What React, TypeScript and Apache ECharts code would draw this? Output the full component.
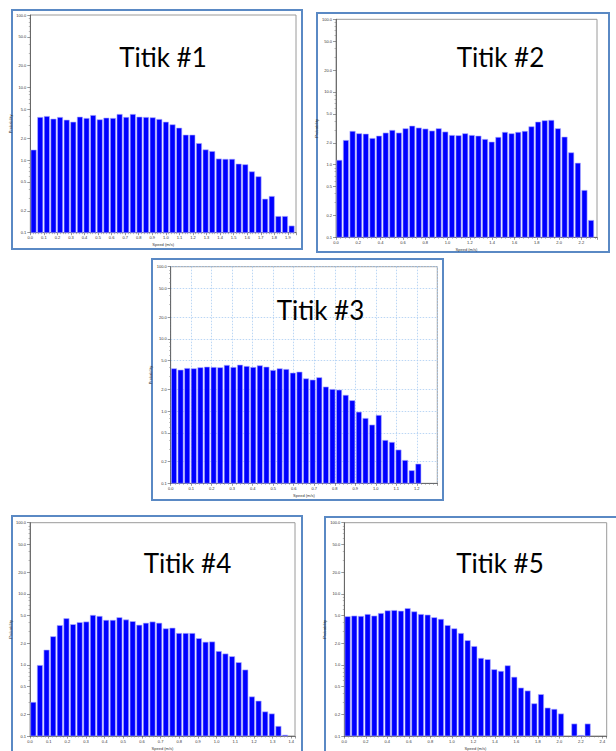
import React, { useEffect, useRef } from "react";
import * as echarts from "echarts";

// ---- data ----
const titles = ["Titik #1", "Titik #2", "Titik #3", "Titik #4", "Titik #5"];

const p1Values = [1.38, 3.89, 4.01, 3.69, 3.89, 3.57, 3.35, 3.93, 3.77, 4.14, 3.61, 3.81, 3.77, 4.28, 3.89, 4.28, 3.93, 3.89, 3.85, 3.65, 3.35, 3.08, 2.77, 2.22, 2.22, 1.70, 1.39, 1.32, 1.04, 1.03, 1.03, 0.885, 0.867, 0.693, 0.592, 0.291, 0.317, 0.168, 0.168, 0.124];
const p2Values = [1.15, 2.16, 2.88, 2.67, 2.64, 2.30, 2.48, 2.73, 2.97, 2.73, 3.13, 3.40, 3.20, 3.10, 2.91, 3.13, 2.82, 2.53, 2.51, 2.67, 2.53, 2.48, 2.23, 2.05, 2.38, 2.79, 2.67, 2.79, 2.88, 3.33, 3.86, 4.03, 4.08, 3.13, 2.40, 1.46, 1.05, 0.443, 0.171];
const p3Values = [3.87, 3.71, 3.91, 3.87, 4.00, 4.08, 4.04, 4.00, 4.31, 4.04, 4.35, 4.17, 4.04, 4.26, 4.08, 3.67, 3.87, 3.79, 3.37, 3.48, 2.81, 2.70, 2.91, 2.16, 2.00, 1.96, 1.66, 1.40, 0.97, 0.794, 0.643, 0.875, 0.394, 0.370, 0.290, 0.208, 0.150, 0.185];
const p4Values = [0.298, 0.985, 1.62, 2.50, 3.59, 4.48, 3.70, 3.95, 4.03, 4.99, 4.83, 4.25, 4.25, 4.63, 4.30, 4.08, 3.63, 3.87, 4.03, 3.87, 3.23, 3.30, 2.78, 2.78, 2.78, 2.35, 2.09, 2.11, 1.55, 1.43, 1.31, 1.08, 0.85, 0.356, 0.310, 0.219, 0.205, 0.137, 0.103];
const p5Values = [4.78, 4.88, 4.83, 5.14, 4.88, 5.31, 5.78, 5.84, 5.72, 6.22, 5.60, 5.14, 5.04, 4.63, 4.39, 3.59, 3.23, 2.78, 2.20, 1.82, 1.24, 1.19, 0.859, 0.814, 0.975, 0.673, 0.474, 0.431, 0.285, 0.384, 0.248, 0.238, 0.205, null, 0.148, 0.102, 0.148];

const allValues = [p1Values, p2Values, p3Values, p4Values, p5Values];
const binWidths = [0.0488, 0.0594, 0.0322, 0.0355, 0.062];
const xMaxes = [1.96, 2.34, 1.3, 1.42, 2.44];
const xIntervals = [0.1, 0.2, 0.1, 0.1, 0.2];

const yTickValues = [0.1, 0.2, 0.5, 1, 2, 5, 10, 20, 50, 100];
const yMinorValues = [0.3, 0.4, 0.6, 0.7, 0.8, 0.9, 3, 4, 6, 7, 8, 9, 30, 40, 60, 70, 80, 90];

// ---- layout ----
const grids = [
  { left: 30.3, top: 15, width: 265.7, height: 217.7 },
  { left: 336, top: 19.3, width: 261, height: 218 },
  { left: 170.7, top: 266.7, width: 266.6, height: 216.6 },
  { left: 30, top: 522.7, width: 265, height: 217.3 },
  { left: 344.3, top: 522.7, width: 262.4, height: 217.3 },
];
const borders = [
  { x: 12, y: 10, w: 290, h: 239 },
  { x: 317, y: 13, w: 292, h: 239 },
  { x: 152, y: 259, w: 291, h: 241 },
  { x: 12, y: 516, w: 290, h: 260 },
  { x: 325, y: 517, w: 300, h: 260 },
];
const titlePos = [
  [163, 56.5],
  [500.5, 56.5],
  [320.5, 309.5],
  [187.5, 563],
  [500, 563],
];

export default function App() {
  const ref = useRef<HTMLDivElement>(null);
  useEffect(() => {
    if (!ref.current) return;
    const chart = echarts.init(ref.current, null, { renderer: "svg" });
    const grid: any[] = [];
    const xAxis: any[] = [];
    const yAxis: any[] = [];
    const series: any[] = [];
    const graphic: any[] = [];

    borders.forEach((b) => {
      graphic.push({
        type: "rect",
        shape: { x: b.x, y: b.y, width: b.w, height: b.h },
        style: { fill: "#fff", stroke: "#5a89c4", lineWidth: 2 },
        z: -10,
      });
    });

    allValues.forEach((vals, k) => {
      const g = grids[k];
      const gridLines = k === 2;
      grid.push({
        left: g.left,
        top: g.top,
        width: g.width,
        height: g.height,
        show: true,
        borderColor: "#9a9a9a",
        borderWidth: 1,
        backgroundColor: "#fff",
        containLabel: false,
      });
      xAxis.push({
        type: "value",
        gridIndex: k,
        min: 0,
        max: xMaxes[k],
        interval: xIntervals[k],
        name: "Speed (m/s)",
        nameLocation: "middle",
        nameGap: 10,
        nameTextStyle: { fontSize: 4, color: "#333", fontFamily: "Liberation Sans" },
        axisLine: { show: true, lineStyle: { color: "#555", width: 0.8 } },
        axisTick: { show: true, length: 2.5, lineStyle: { color: "#555", width: 0.6 } },
        minorTick: { show: true, splitNumber: 5, length: 1.5, lineStyle: { color: "#777", width: 0.5 } },
        axisLabel: {
          fontSize: 4,
          color: "#333",
          margin: 3,
          fontFamily: "Liberation Sans",
          formatter: (v: number) => v.toFixed(1),
          showMaxLabel: false,
        },
        splitLine: gridLines
          ? { show: true, lineStyle: { color: "#a9cdf2", type: [1.5, 1.5], width: 0.8 } }
          : { show: false },
      });
      yAxis.push({
        type: "log",
        logBase: 10,
        gridIndex: k,
        position: "left",
        min: 0.1,
        max: 100,
        name: "Probability",
        nameLocation: "middle",
        nameGap: 15,
        nameTextStyle: { fontSize: 4, color: "#333", fontFamily: "Liberation Sans" },
        axisLine: { show: true, lineStyle: { color: "#555", width: 0.8 } },
        axisTick: { show: true, length: 3, customValues: yTickValues, lineStyle: { color: "#555", width: 0.6 } },
        axisLabel: {
          fontSize: 4,
          color: "#333",
          margin: 4,
          fontFamily: "Liberation Sans",
          customValues: yTickValues,
          formatter: (v: number) => Number(v).toFixed(1),
        },
        splitLine: gridLines
          ? { show: true, customValues: yTickValues, lineStyle: { color: "#a9cdf2", type: [1.5, 1.5], width: 0.8 } }
          : { show: false },
      });
    });
    // minor tick y axes (left side)
    allValues.forEach((_, k) => {
      yAxis.push({
        type: "log",
        logBase: 10,
        gridIndex: k,
        position: "left",
        offset: 0,
        min: 0.1,
        max: 100,
        axisLine: { show: false },
        axisTick: { show: true, length: 1.5, customValues: yMinorValues, lineStyle: { color: "#777", width: 0.5 } },
        axisLabel: { show: false },
        splitLine: { show: false },
      });
    });

    allValues.forEach((vals, k) => {
      const bw = binWidths[k];
      const data = vals.map((v, i) => [i * bw, (i + 1) * bw, v == null ? "-" : v]);
      series.push({
        type: "custom",
        xAxisIndex: k,
        yAxisIndex: k,
        encode: { x: [0, 1], y: 2 },
        data,
        renderItem: (params: any, api: any) => {
          const v = api.value(2);
          if (v == null || isNaN(v)) return null;
          const x0 = api.value(0);
          const x1 = api.value(1);
          const gap = (x1 - x0) * 0.1;
          const p0 = api.coord([x0 + gap, v]);
          const p1 = api.coord([x1 - gap, 0.1]);
          return {
            type: "rect",
            shape: { x: p0[0], y: p0[1], width: p1[0] - p0[0], height: p1[1] - p0[1] },
            style: { fill: "#0000ff", stroke: "#b4b4ff", lineWidth: 0.6 },
          };
        },
      });
    });

    titles.forEach((t, k) => {
      graphic.push({
        type: "text",
        x: titlePos[k][0],
        y: titlePos[k][1],
        z: 100,
        style: {
          text: t,
          fontSize: 26,
          fontFamily: "Lato",
          fill: "#000",
          align: "center",
          verticalAlign: "middle",
        },
      });
    });

    chart.setOption({
      animation: false,
      backgroundColor: "#fff",
      grid,
      xAxis,
      yAxis,
      series,
      graphic,
    });
    return () => chart.dispose();
  }, []);
  return (
    <div
      ref={ref}
      style={{ position: "fixed", left: 0, top: 0, width: 616, height: 751 }}
    />
  );
}
